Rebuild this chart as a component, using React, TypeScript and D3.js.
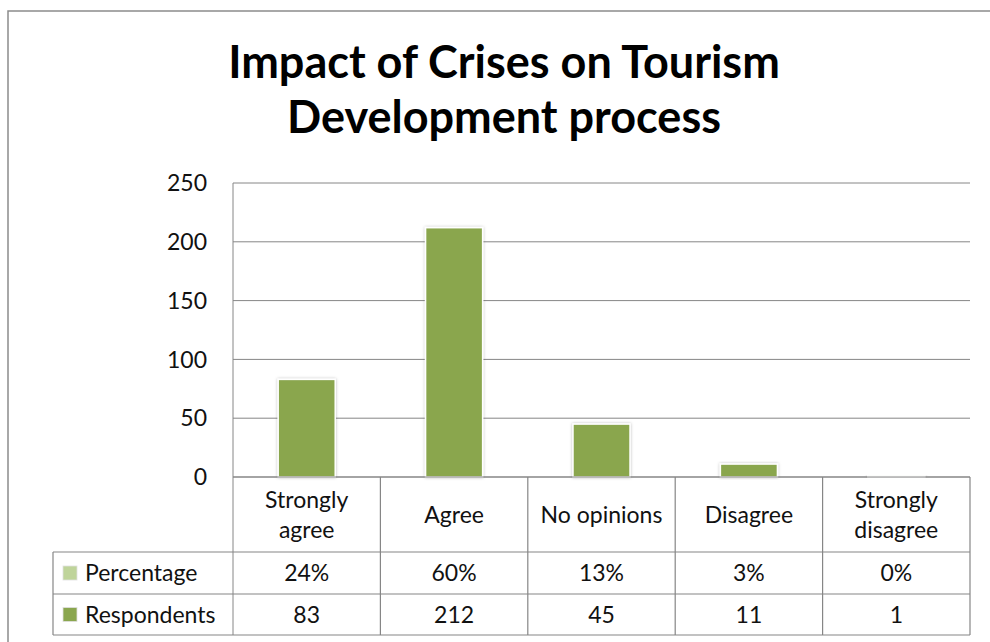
import React from "react";
import * as d3 from "d3";

const title = ["Impact of Crises on Tourism", "Development process"];
const categories = ["Strongly agree", "Agree", "No opinions", "Disagree", "Strongly disagree"];
const categoryLines = [["Strongly", "agree"], ["Agree"], ["No opinions"], ["Disagree"], ["Strongly", "disagree"]];
const percentage = [0.24, 0.6, 0.13, 0.03, 0.0];
const respondents = [83, 212, 45, 11, 1];
const yTicks = [0, 50, 100, 150, 200, 250];
const seriesNames = ["Percentage", "Respondents"];

const W = 990;
const H = 642;
const FONT = "Lato, 'Open Sans', sans-serif";
const GRID = "#868686";
const BAR = "#8AA64E";
const LIGHT = "#BFD49A";

export default function App() {
  const plotLeft = 233;
  const plotRight = 970;
  const plotTop = 183;
  const plotBottom = 477;
  const row1 = 552;
  const row2 = 594;
  const row3 = 635;
  const legendLeft = 53;

  const x = d3.scaleBand<string>().domain(categories).range([plotLeft, plotRight]).padding(0);
  const y = d3.scaleLinear().domain([0, 250]).range([plotBottom, plotTop]);
  const barW = x.bandwidth() * 0.387;
  const pct = d3.format(".0%");

  const rows = [
    { name: seriesNames[0], color: LIGHT, vals: percentage.map((v) => pct(v)), top: row1, bottom: row2 },
    { name: seriesNames[1], color: BAR, vals: respondents.map((v) => String(v)), top: row2, bottom: row3 },
  ];

  return (
    <svg
      width={W}
      height={H}
      style={{ position: "absolute", left: 0, top: 0, background: "#fff" }}
      fontFamily={FONT}
    >
      <defs>
        <filter id="shadow" x="-20%" y="-20%" width="140%" height="140%">
          <feDropShadow dx="0" dy="0" stdDeviation="1.6" floodColor="#000" floodOpacity="0.28" />
        </filter>
      </defs>
      <rect x={0} y={0} width={W} height={H} fill="#fff" />
      {/* outer frame */}
      <path d={`M8,${H} L8,11 L${W},11`} fill="none" stroke="#8c8c8c" strokeWidth={1.5} />

      {/* title */}
      {title.map((t, i) => (
        <text
          key={t}
          x={504}
          y={78 + i * 55}
          textAnchor="middle"
          fontSize={45}
          fontWeight="bold"
          fill="#000"
        >
          {t}
        </text>
      ))}

      {/* gridlines and y ticks */}
      {yTicks.map((t) => (
        <g key={t}>
          <line x1={plotLeft} x2={plotRight} y1={y(t)} y2={y(t)} stroke={GRID} strokeWidth={1} />
          <text x={207} y={y(t)} dy="0.36em" textAnchor="end" fontSize={23} fill="#111">
            {t}
          </text>
        </g>
      ))}
      <line x1={plotLeft} x2={plotLeft} y1={plotTop} y2={row3} stroke={GRID} strokeWidth={1} />

      {/* bars */}
      {categories.map((c, i) => {
        const cx = (x(c) as number) + x.bandwidth() / 2;
        const top = y(respondents[i]);
        return (
          <rect
            key={c}
            x={cx - barW / 2}
            y={top}
            width={barW}
            height={Math.max(0.5, plotBottom - top)}
            fill={BAR}
            stroke="#fff"
            strokeWidth={1.5}
            filter="url(#shadow)"
          />
        );
      })}

      {/* data table lines */}
      <line x1={plotLeft} x2={plotRight} y1={plotBottom} y2={plotBottom} stroke={GRID} strokeWidth={1.2} />
      {[row1, row2, row3].map((r) => (
        <line key={r} x1={legendLeft} x2={plotRight} y1={r} y2={r} stroke={GRID} strokeWidth={1.2} />
      ))}
      {categories.map((c) => (
        <line
          key={"v" + c}
          x1={(x(c) as number) + x.bandwidth()}
          x2={(x(c) as number) + x.bandwidth()}
          y1={plotBottom}
          y2={row3}
          stroke={GRID}
          strokeWidth={1.2}
        />
      ))}
      <line x1={legendLeft} x2={legendLeft} y1={row1} y2={row3} stroke={GRID} strokeWidth={1.2} />

      {/* category header */}
      {categories.map((c, i) => {
        const cx = (x(c) as number) + x.bandwidth() / 2;
        const lines = categoryLines[i];
        const mid = (plotBottom + row1) / 2;
        return (
          <text key={"h" + c} textAnchor="middle" fontSize={23} fill="#111">
            {lines.map((l, j) => (
              <tspan key={l} x={cx} y={mid + (j - (lines.length - 1) / 2) * 30} dy="0.36em">
                {l}
              </tspan>
            ))}
          </text>
        );
      })}

      {/* rows */}
      {rows.map((r) => {
        const mid = (r.top + r.bottom) / 2;
        return (
          <g key={r.name}>
            <rect x={63} y={mid - 7} width={14} height={14} fill={r.color} stroke="#e0e0e0" strokeWidth={0.8} />
            <text x={85} y={mid} dy="0.36em" fontSize={23} fill="#111">
              {r.name}
            </text>
            {categories.map((c, i) => (
              <text
                key={c}
                x={(x(c) as number) + x.bandwidth() / 2}
                y={mid}
                dy="0.36em"
                textAnchor="middle"
                fontSize={23}
                fill="#111"
              >
                {r.vals[i]}
              </text>
            ))}
          </g>
        );
      })}
    </svg>
  );
}
